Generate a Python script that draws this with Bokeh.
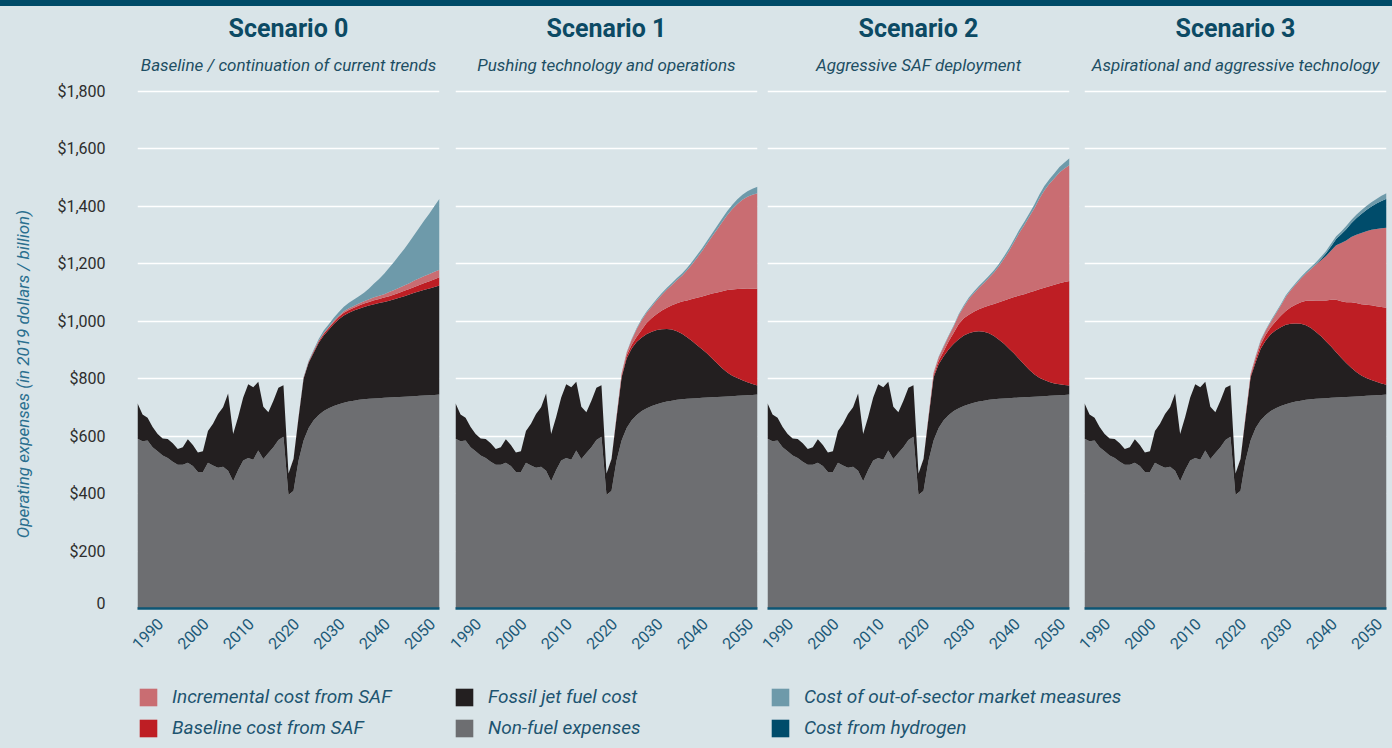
import math
from bokeh.plotting import figure
from bokeh.models import (Range1d, FixedTicker, NumeralTickFormatter, Legend, Title,
                          LegendItem, ColumnDataSource, GlobalInlineStyleSheet)
from bokeh.layouts import row, column
from bokeh.embed import file_html
from bokeh.resources import INLINE
from bokeh.core.properties import value

# ---------------- data (USD billion, 2019 dollars) ----------------
YEARS = list(range(1990, 2051))
HIST_YEARS = list(range(1990, 2020))   # common history
FUT_YEARS = list(range(2020, 2051))    # scenario projections

HIST_NONFUEL = [591, 582, 585, 561, 547, 532, 524, 511, 500, 500,
                507, 496, 475, 475, 507, 498, 490, 493, 479, 443,
                482, 515, 524, 518, 550, 520, 541, 561, 586, 598]
HIST_FOSSIL = [123, 93, 79, 71, 60, 60, 66, 64, 55, 61,
               82, 73, 68, 72, 111, 145, 187, 207, 269, 164,
               184, 219, 256, 252, 239, 182, 142, 162, 182, 179]

FUT_NONFUEL = [395, 410, 515, 585, 628, 655, 673, 687, 697, 705, 711, 716, 720, 723, 726, 728,
               730, 731, 732, 733, 734, 735, 736, 737, 738, 739, 740, 741, 742, 743, 745]

FOSSIL_S0 = [75, 110, 150, 215, 227, 235, 252, 263, 273, 285, 296, 304, 309, 314, 317, 321,
             324, 328, 331, 334, 337, 341, 345, 350, 355, 360, 364, 368, 372, 376, 379]
FOSSIL_S1 = [75, 110, 150, 220, 242, 250, 255, 256, 258, 258, 258, 256, 253, 248, 239, 228,
             214, 200, 184, 169, 153, 135, 117, 99, 83, 71, 62, 53, 45, 38, 31]
FOSSIL_S2 = [75, 110, 150, 220, 222, 223, 229, 234, 240, 245, 247, 247, 245, 240, 232, 220,
             205, 190, 172, 154, 134, 114, 95, 78, 65, 56, 48, 42, 38, 35, 31]
FOSSIL_S3 = [75, 110, 150, 220, 229, 249, 260, 267, 271, 274, 276, 275, 272, 268, 260, 248,
             232, 216, 197, 179, 158, 138, 118, 101, 85, 72, 62, 54, 47, 40, 34]

SAF_BASE_S0 = [0, 1, 1, 2, 3, 4, 5, 6, 7, 7, 8, 9, 10, 10, 11, 12,
               13, 14, 14, 15, 16, 17, 18, 19, 19, 20, 22, 24, 25, 27, 29]
SAF_BASE_S1 = [0, 1, 3, 5, 10, 13, 18, 27, 39, 48, 56, 65, 74, 84, 97, 112,
               128, 146, 165, 184, 204, 226, 247, 268, 287, 300, 310, 319, 327, 332, 337]
SAF_BASE_S2 = [0, 1, 3, 7, 12, 17, 28, 39, 53, 60, 64, 70, 76, 85, 96, 112,
               131, 151, 174, 197, 221, 245, 269, 290, 308, 321, 333, 344, 352, 358, 364]
SAF_BASE_S3 = [0, 1, 3, 5, 10, 15, 20, 25, 32, 40, 48, 57, 66, 75, 85, 95,
               110, 125, 143, 162, 182, 196, 212, 228, 240, 248, 255, 260, 263, 266, 268]

SAF_INCR_S0 = [0, 0, 1, 1, 1, 2, 2, 3, 3, 4, 4, 5, 6, 6, 7, 8,
               9, 10, 11, 12, 14, 15, 17, 18, 20, 22, 23, 24, 25, 26, 26]
SAF_INCR_S1 = [0, 0, 2, 8, 10, 17, 27, 34, 36, 40, 48, 55, 63, 71, 81, 90,
               105, 121, 140, 158, 179, 199, 220, 241, 261, 280, 296, 309, 319, 327, 332]
SAF_INCR_S2 = [0, 0, 3, 8, 12, 16, 18, 22, 31, 40, 55, 64, 75, 85, 97, 109,
               126, 145, 167, 191, 218, 240, 263, 287, 315, 339, 357, 370, 385, 395, 403]
SAF_INCR_S3 = [0, 0, 2, 6, 10, 12, 14, 18, 26, 35, 50, 60, 70, 82, 95, 110,
               125, 140, 155, 172, 190, 203, 215, 227, 238, 248, 256, 263, 269, 274, 278]

H2_S0 = [0] * 31
H2_S1 = [0] * 31
H2_S2 = [0] * 31
H2_S3 = [0, 0, 0, 0, 0, 0, 0, 0, 0, 0, 0, 0, 0, 0, 0, 0,
         1, 4, 9, 15, 22, 30, 39, 48, 57, 66, 74, 81, 88, 95, 101]

OOS_S0 = [0, 0, 1, 2, 3, 4, 6, 8, 9, 11, 13, 16, 19, 22, 26, 30,
          38, 48, 59, 71, 85, 99, 113, 127, 143, 160, 177, 194, 211, 229, 247]
OOS_S1 = [0, 0, 0, 1, 2, 3, 3, 4, 4, 5, 5, 6, 6, 7, 7, 8,
          8, 9, 9, 10, 10, 11, 12, 13, 14, 15, 16, 18, 19, 21, 23]
OOS_S2 = [0, 0, 0, 1, 2, 3, 3, 4, 4, 5, 5, 6, 6, 7, 7, 8,
          8, 9, 9, 10, 10, 11, 12, 13, 14, 15, 16, 18, 19, 21, 24]
OOS_S3 = [0, 0, 0, 1, 2, 3, 3, 4, 4, 5, 5, 5, 6, 6, 6, 7,
          7, 8, 8, 9, 9, 10, 11, 11, 12, 13, 14, 15, 16, 18, 19]

SCENARIO_TITLES = ["Scenario 0", "Scenario 1", "Scenario 2", "Scenario 3"]
SCENARIO_SUBTITLES = ["Baseline / continuation of current trends",
                      "Pushing technology and operations",
                      "Aggressive SAF deployment",
                      "Aspirational and aggressive technology"]
FOSSIL = [FOSSIL_S0, FOSSIL_S1, FOSSIL_S2, FOSSIL_S3]
SAF_BASE = [SAF_BASE_S0, SAF_BASE_S1, SAF_BASE_S2, SAF_BASE_S3]
SAF_INCR = [SAF_INCR_S0, SAF_INCR_S1, SAF_INCR_S2, SAF_INCR_S3]
H2 = [H2_S0, H2_S1, H2_S2, H2_S3]
OOS = [OOS_S0, OOS_S1, OOS_S2, OOS_S3]

X_TICKS = [1990, 2000, 2010, 2020, 2030, 2040, 2050]
X_TICK_LABELS = ["1990", "2000", "2010", "2020", "2030", "2040", "2050"]
Y_TICKS = [0, 200, 400, 600, 800, 1000, 1200, 1400, 1600, 1800]
Y_LABEL = "Operating expenses (in 2019 dollars / billion)"

STACK_KEYS = ["nonfuel", "fossil", "saf_base", "saf_incr", "h2", "oos"]
STACK_COLORS = ["#6d6e71", "#231f20", "#be1e24", "#c96d72", "#004c6b", "#6e9aaa"]
LEGEND_ORDER = [("Incremental cost from SAF", "#c96d72"),
                ("Baseline cost from SAF", "#be1e24"),
                ("Fossil jet fuel cost", "#231f20"),
                ("Non-fuel expenses", "#6d6e71"),
                ("Cost of out-of-sector market measures", "#6e9aaa"),
                ("Cost from hydrogen", "#004c6b")]

# ---------------- style / layout ----------------
BG = "#d9e4e8"
FONT = "Roboto"
TEAL_DARK = "#0c4a64"
TEAL_TEXT = "#1d5a78"

TOTAL_W = 1392
# (min_border_left, frame width, min_border_right)
PANEL_GEOM = [(137, 302, 8), (8, 302, 5), (5, 302, 7), (8, 302, 6)]
TOP, FRAME_H, BOTTOM = 85, 523, 4
STRIP_H = 134
# year labels are spread evenly inside each panel, from 10 px right of the
# left edge to 20 px left of the right edge (as in the original graphic)
LABEL_PAD_L, LABEL_PAD_R = 10, 20


def make_panel(i):
    left, fw, right = PANEL_GEOM[i]
    n_hist = len(HIST_YEARS)
    data = dict(
        year=YEARS,
        nonfuel=HIST_NONFUEL + FUT_NONFUEL,
        fossil=HIST_FOSSIL + FOSSIL[i],
        saf_base=[0] * n_hist + SAF_BASE[i],
        saf_incr=[0] * n_hist + SAF_INCR[i],
        h2=[0] * n_hist + H2[i],
        oos=[0] * n_hist + OOS[i],
    )
    src = ColumnDataSource(data)
    p = figure(width=left + fw + right, height=TOP + FRAME_H + BOTTOM,
               x_range=Range1d(1990, 2050), y_range=Range1d(0, 1820),
               output_backend="svg", toolbar_location=None, title=None,
               min_border_left=left, min_border_right=right,
               min_border_top=TOP, min_border_bottom=BOTTOM)
    p.background_fill_color = BG
    p.border_fill_alpha = 0
    p.outline_line_color = None

    p.varea_stack(stackers=STACK_KEYS, x="year", color=STACK_COLORS, source=src)

    p.xgrid.visible = False
    p.yaxis.ticker = FixedTicker(ticks=Y_TICKS)
    p.ygrid.grid_line_color = "white"
    p.ygrid.grid_line_width = 1.5

    xa = p.xaxis[0]
    xa.ticker = FixedTicker(ticks=[])
    xa.major_tick_line_color = None
    xa.minor_tick_line_color = None
    xa.major_label_standoff = 0
    xa.axis_line_color = "#0d5675"
    xa.axis_line_width = 2.5

    ya = p.yaxis[0]
    if i == 0:
        ya.formatter = NumeralTickFormatter(format="$0,0")
        ya.major_label_overrides = {0: "0"}
        ya.axis_line_color = None
        ya.major_tick_line_color = None
        ya.minor_tick_line_color = None
        ya.major_label_text_color = "#2d2d2d"
        ya.major_label_text_font = FONT
        ya.major_label_text_font_size = "16px"
        ya.major_label_standoff = 26
        ya.axis_label = Y_LABEL + "\u00a0" * 13
        ya.axis_label_standoff = 21
        ya.axis_label_text_font = FONT
        ya.axis_label_text_font_style = "italic"
        ya.axis_label_text_font_size = "17px"
        ya.axis_label_text_color = "#2a6f8f"
    else:
        ya.visible = False

    p.add_layout(Title(text=SCENARIO_SUBTITLES[i], align="center", standoff=22,
                       text_font=FONT, text_font_style="italic", text_font_size="17px",
                       text_color="#1d4e63"), "above")
    p.add_layout(Title(text=SCENARIO_TITLES[i], align="center", standoff=-3,
                       text_font=FONT, text_font_style="bold", text_font_size="25px",
                       text_color=TEAL_DARK), "above")
    return p


panels = [make_panel(i) for i in range(4)]

# ---------------- bottom strip: year labels + legend ----------------
strip = figure(width=TOTAL_W, height=STRIP_H, output_backend="svg", toolbar_location=None,
               x_range=Range1d(0, TOTAL_W), y_range=Range1d(0, STRIP_H), min_border=0, title=None)
strip.background_fill_color = BG
strip.border_fill_alpha = 0
strip.outline_line_color = None
strip.axis.visible = False
strip.grid.visible = False

# one x range per panel so that the year labels line up with each panel's frame
x0 = 0
n_lab = len(X_TICKS)
for i, (left, fw, right) in enumerate(PANEL_GEOM):
    frame_left = x0 + left
    span = YEARS[-1] - YEARS[0]
    yrs_per_px = span / fw
    name = f"panel{i}"
    strip.extra_x_ranges[name] = Range1d(YEARS[0] - frame_left * yrs_per_px,
                                         YEARS[0] + (TOTAL_W - frame_left) * yrs_per_px)
    pitch = (fw - LABEL_PAD_L - LABEL_PAD_R) / (n_lab - 1)
    offsets = [LABEL_PAD_L + d * pitch - (t - YEARS[0]) / yrs_per_px
               for d, t in enumerate(X_TICKS)]
    lab_src = ColumnDataSource(dict(x=X_TICKS, text=X_TICK_LABELS, dx=offsets))
    strip.text(x="x", y=STRIP_H - 21, text="text", x_offset="dx", source=lab_src,
               x_range_name=name, angle=math.pi / 4, text_align="center",
               text_baseline="middle", text_font=value(FONT), text_font_size="16px",
               text_color=TEAL_TEXT)
    x0 += left + fw + right

items = []
for name, col in LEGEND_ORDER:
    r = strip.varea(x=[0], y1=[0], y2=[0], fill_color=col)
    items.append(LegendItem(label=name, renderers=[r]))
legend = Legend(items=items, location=(137, 7), orientation="vertical", nrows=2,
                glyph_width=22, glyph_height=22, label_standoff=13, spacing=8,
                padding=0, margin=0, label_width=273, label_height=22,
                border_line_color=None, background_fill_alpha=0,
                label_text_font=FONT, label_text_font_style="italic",
                label_text_font_size="19px", label_text_color="#1d5470")
strip.add_layout(legend)

layout = column(row(*panels), strip)
layout.stylesheets = [GlobalInlineStyleSheet(
    css="html{background-color:#d9e4e8;background-image:linear-gradient(#004b68,#004b68);"
        "background-repeat:no-repeat;background-size:100% 6px;background-position:0 0;}"
        "body{background:transparent;}")]

open("out.html", "w").write(file_html(layout, INLINE))
